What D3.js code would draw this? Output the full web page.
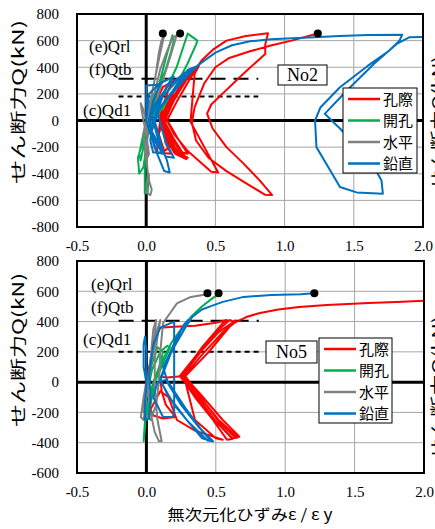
<!DOCTYPE html>
<html><head><meta charset="utf-8">
<script src="https://cdn.jsdelivr.net/npm/d3@7/dist/d3.min.js"></script>
<style>body{margin:0;background:#fff}svg{display:block}</style>
</head><body>
<svg id="c" width="435" height="529"></svg>
<script>
// ---- data ----
const seriesNames = ["孔際", "開孔", "水平", "鉛直"];
const seriesColors = ["#FF0000", "#00B050", "#808080", "#0070C0"];
const xTicks = [-0.5, 0, 0.5, 1.0, 1.5, 2.0];
const yTicksTop = [-800, -600, -400, -200, 0, 200, 400, 600, 800];
const yTicksBottom = [-600, -400, -200, 0, 200, 400, 600, 800];
const annotLabels = ["(e)Qrl", "(f)Qtb", "(c)Qd1"];

// No2 panel
const no2Red = [[0,0],[0.06,120],[0.12,250],[0.2,300],[0.16,230],[0.1,40],[0.12,-80],[0.17,-200],[0.13,-230],[0.09,-100],[0.1,0],
 [0.18,200],[0.28,330],[0.24,300],[0.11,40],[0.14,-100],[0.22,-230],[0.25,-270],[0.19,-220],[0.1,-40],
 [0.12,60],[0.24,250],[0.33,360],[0.3,320],[0.12,20],[0.2,-140],[0.28,-270],[0.3,-280],[0.22,-240],[0.11,-30],
 [0.08,-150],[0.08,-240],[0.18,-250],[0.14,-170],[0.12,-40],
 [0.14,80],[0.27,280],[0.37,400],[0.33,370],[0.13,40],[0.22,-120],[0.3,-250],[0.22,-230],[0.12,-10],
 [0.16,90],[0.25,260],[0.35,380],[0.31,340],[0.11,30],[0.18,-120],[0.26,-260],[0.2,-240],[0.11,-20],
 [0.15,70],[0.23,230],[0.3,340],[0.27,300],[0.1,10],[0.16,-130],[0.24,-250],[0.29,-290],[0.21,-250],[0.12,-30],
 [0.2,150],[0.3,330],[0.38,410],[0.35,350],[0.32,-10],[0.42,-200],[0.52,-390],[0.47,-385],[0.3,-230],[0.2,-100],[0.15,0],
 [0.22,140],[0.32,320],[0.4,450],[0.48,530],[0.58,600],[0.72,635],[0.88,655],[0.86,570],[0.86,500],[0.7,350],[0.55,200],[0.47,120],[0.44,52],
 [0.48,-60],[0.58,-200],[0.7,-320],[0.82,-450],[0.91,-560],[0.86,-558],[0.72,-470],[0.58,-380],[0.45,-280],[0.36,-150],[0.33,-15],
 [0.35,100],[0.42,280],[0.5,400],[0.6,470],[0.75,520],[0.9,563],[1.05,600],[1.24,653]];
const no2Green = [[0,0],[0.02,100],[0.05,200],[0.03,150],[0,0],[-0.02,-100],[-0.05,-250],[-0.04,-300],[-0.02,-200],[0,-50],
 [0.04,100],[0.09,250],[0.14,380],[0.18,520],[0.2,600],[0.19,640],[0.15,500],[0.1,300],[0.05,100],[0.02,0],
 [-0.02,-150],[-0.06,-280],[-0.05,-400],[-0.02,-350],[0,-200],[0.02,-50],[0.08,100],[0.15,250],[0.22,400],[0.27,560],
 [0.3,653],[0.37,600],[0.36,570],[0.3,430],[0.22,270],[0.12,95],[0.05,0],[0,-150],[-0.01,-300],[-0.01,-420],[-0.01,-550],[0.01,-540],[0.02,-400]];
const no2Grey = [[0,0],[-0.02,80],[-0.04,130],[-0.03,60],[-0.02,0],[0,-100],[0.02,-250],[0,-300],[0,-200],[0.01,0],
 [0.04,200],[0.07,350],[0.09,500],[0.11,600],[0.13,640],[0.1,500],[0.05,250],[0.02,50],[-0.02,-100],[0,-300],
 [0.02,-450],[0.04,-520],[0.03,-560],[0,-540],[0.01,-400],[0,-200],[0.02,0],[0.06,200],[0.1,380],[0.15,520],
 [0.19,620],[0.22,640],[0.18,500],[0.12,300],[0.06,100],[0.02,0]];
const no2Blue = [[0,0],[0,150],[0,262],[0.1,270],[0.05,150],[0.02,0],[0.06,-150],[0.12,-250],[0.08,-240],[0.03,-100],[0,0],
 [0.02,200],[0.1,280],[0.2,330],[0.15,260],[0.04,40],[0.08,-120],[0.15,-300],[0.17,-390],[0.13,-380],[0.06,-200],[0.02,-50],
 [0.05,100],[0.15,250],[0.28,360],[0.37,410],[0.32,360],[0.1,100],[0.06,0],[0.1,-140],[0.12,-240],[0.05,-240],[0.03,-150],[0.05,0],
 [0.12,180],[0.25,330],[0.35,400],[0.3,380],[0.08,60],[0.14,-160],[0.2,-280],[0.14,-270],[0.04,-80],
 [0.1,100],[0.25,300],[0.38,420],[0.5,510],[0.62,565],[0.75,595],[0.9,610],[1.1,620],[1.4,635],[1.6,642],[1.85,645],
 [1.83,600],[1.75,520],[1.6,410],[1.4,250],[1.26,100],[1.22,0],[1.23,-200],[1.33,-375],[1.4,-500],[1.52,-540],[1.71,-550],
 [1.7,-450],[1.62,-300],[1.5,-170],[1.4,-60],[1.29,50],[1.45,225],[1.65,430],[1.81,575],[1.9,625],[2.05,628]];

// No5 panel
const no5Red = [[0,0],[0.03,150],[0.06,300],[0.1,360],[0.2,365],[0.35,372],[0.5,392],[0.58,410],[0.55,390],[0.4,230],[0.25,35],
 [0.35,-100],[0.48,-250],[0.58,-380],[0.62,-375],[0.5,-260],[0.35,-80],[0.24,40],[0.38,200],[0.5,330],[0.6,410],[0.63,400],[0.45,200],[0.27,30],
 [0.38,-110],[0.5,-260],[0.62,-370],[0.66,-365],[0.52,-250],[0.36,-70],[0.26,45],[0.4,210],[0.52,330],[0.64,405],[0.62,395],[0.44,190],[0.28,40],
 [0.4,-110],[0.52,-260],[0.64,-365],[0.67,-360],[0.55,-250],[0.38,-70],[0.27,40],
 [0.15,30],[0.1,35],[0.11,-60],[0.14,-150],[0.21,-230],[0.12,-240],[0.05,-220],[0.03,-180],[0.1,-60],[0.16,-100],[0.22,-250],[0.35,-320],[0.55,-380],[0.5,-370],[0.35,-250],[0.27,40],
 [0.4,180],[0.55,330],[0.64,395],[0.72,430],[0.81,455],[0.95,480],[1.1,497],[1.3,510],[1.6,522],[1.8,530],[2.05,540]];
const no5Green = [[0,0],[0.02,60],[0.05,150],[0.08,230],[0.12,200],[0.1,120],[0.05,0],[0.02,-100],[-0.01,-250],[-0.02,-390],
 [-0.01,-300],[0,-100],[0.04,80],[0.1,200],[0.15,240],[0.17,230],[0.13,150],[0.09,60],[0.05,-20],[0.02,-150],[0,-250],
 [0.02,-200],[0.06,0],[0.12,150],[0.18,260],[0.25,350],[0.32,430],[0.4,500],[0.47,550],[0.51,575]];
const no5Grey = [[0,0],[-0.02,-100],[-0.04,-230],[-0.02,-250],[0,-100],[0.03,100],[0.06,300],[0.07,410],[0.05,350],[0.03,150],
 [0.01,-50],[0.03,-200],[0.06,-330],[0.09,-390],[0.11,-390],[0.08,-250],[0.06,-50],[0.06,150],[0.08,300],[0.1,410],
 [0.08,350],[0.04,150],[0,-50],[-0.02,-200],[0.03,-250],[0.07,-150],[0.09,0],[0.1,200],[0.12,390],[0.17,455],[0.22,520],[0.32,563],[0.44,580]];
const no5Blue = [[0,0],[-0.02,100],[-0.02,250],[-0.01,300],[0,200],[0,0],[-0.01,-150],[-0.01,-250],[0.02,-240],[0.03,-100],
 [0.02,50],[0.05,250],[0.1,360],[0.2,400],[0.2,200],[0.2,0],[0.2,-200],[0.19,-230],[0.12,-230],[0.05,-100],[0.08,0],
 [0.14,15],[0.25,-150],[0.38,-300],[0.48,-390],[0.44,-385],[0.3,-260],[0.15,-80],[0.1,20],[0.15,150],[0.22,300],[0.3,410],
 [0.27,380],[0.12,100],[0.15,10],[0.28,-170],[0.4,-320],[0.46,-385],[0.4,-370],[0.2,-150],[0.1,10],[0.18,200],[0.28,360],
 [0.33,430],[0.4,480],[0.46,500],[0.55,530],[0.7,563],[0.9,575],[1.11,580],[1.21,587]];

const no2Dots = [[0.12,653],[0.245,653],[1.24,653]];
const no5Dots = [[0.44,587],[0.52,587],[1.21,587]];
const no2Levels = [313, 180];   // (f)Qtb long dash, (c)Qd1 short dash
const no5Levels = [405, 201];

// ---- drawing ----
const svg = d3.select("#c");
const serif = "'Liberation Serif', 'Times New Roman', serif";
const jp = "'Noto Sans CJK JP', sans-serif";

function panel(cfg) {
  const x = d3.scaleLinear([-0.5, 2.0], [cfg.left, cfg.right]);
  const y = d3.scaleLinear([cfg.yTicks[0], 800], [cfg.bottom, cfg.top]);
  const g = svg.append("g");
  const cid = "clip" + cfg.id;
  svg.append("defs").append("clipPath").attr("id", cid).append("rect")
    .attr("x", cfg.left).attr("y", cfg.top).attr("width", cfg.right - cfg.left).attr("height", cfg.bottom - cfg.top);

  g.selectAll(".gx").data(xTicks).join("line").attr("x1", d => x(d)).attr("x2", d => x(d))
    .attr("y1", cfg.top).attr("y2", cfg.bottom).attr("stroke", "#a6a6a6").attr("stroke-width", 1);
  g.selectAll(".gy").data(cfg.yTicks).join("line").attr("y1", d => y(d)).attr("y2", d => y(d))
    .attr("x1", cfg.left).attr("x2", cfg.right).attr("stroke", "#a6a6a6").attr("stroke-width", 1);

  g.append("line").attr("x1", cfg.left).attr("x2", cfg.right).attr("y1", y(0)).attr("y2", y(0)).attr("stroke", "#000").attr("stroke-width", 3);
  g.append("line").attr("x1", x(0)).attr("x2", x(0)).attr("y1", cfg.top).attr("y2", cfg.bottom).attr("stroke", "#000").attr("stroke-width", 3);

  const xa = -0.2, xb = 0.81;
  g.append("line").attr("x1", x(xa)).attr("x2", x(xb)).attr("y1", y(cfg.levels[0])).attr("y2", y(cfg.levels[0]))
    .attr("stroke", "#000").attr("stroke-width", 2).attr("stroke-dasharray", "15,8");
  g.append("line").attr("x1", x(xa)).attr("x2", x(xb)).attr("y1", y(cfg.levels[1])).attr("y2", y(cfg.levels[1]))
    .attr("stroke", "#000").attr("stroke-width", 2).attr("stroke-dasharray", "5,4");

  const line = d3.line().x(d => x(d[0])).y(d => y(d[1]));
  const cg = g.append("g").attr("clip-path", `url(#${cid})`);
  cfg.series.forEach((s, i) => {
    cg.append("path").attr("d", line(s)).attr("fill", "none").attr("stroke", seriesColors[i])
      .attr("stroke-width", 2).attr("stroke-linejoin", "round");
  });
  cg.selectAll(".dot").data(cfg.dots).join("circle").attr("cx", d => x(d[0])).attr("cy", d => y(d[1]))
    .attr("r", 4).attr("fill", "#000");

  g.append("rect").attr("x", cfg.left).attr("y", cfg.top).attr("width", cfg.right - cfg.left).attr("height", cfg.bottom - cfg.top)
    .attr("fill", "none").attr("stroke", "#000").attr("stroke-width", 2);

  const ax = g.append("g").attr("transform", `translate(0,${cfg.bottom})`)
    .call(d3.axisBottom(x).tickValues(xTicks).tickSize(0).tickPadding(13).tickFormat(d => d.toFixed(1)));
  const ay = g.append("g").attr("transform", `translate(${cfg.left},0)`)
    .call(d3.axisLeft(y).tickValues(cfg.yTicks).tickSize(0).tickPadding(18).tickFormat(d => String(d)));
  [ax, ay].forEach(a => { a.select(".domain").remove(); a.selectAll("text").attr("font-family", serif).attr("font-size", 15).attr("fill", "#000"); });

  cfg.annot.forEach((a, i) => {
    g.append("text").attr("x", a[0]).attr("y", a[1]).text(annotLabels[i])
      .attr("font-family", serif).attr("font-size", 17).attr("fill", "#000");
  });

  const nb = cfg.noBox;
  g.append("rect").attr("x", nb[0]).attr("y", nb[1]).attr("width", nb[2]).attr("height", nb[3]).attr("fill", "#fff").attr("stroke", "#000").attr("stroke-width", 1);
  g.append("text").attr("x", nb[0] + nb[2] / 2).attr("y", nb[1] + nb[3] / 2 + 6).attr("text-anchor", "middle")
    .attr("font-family", serif).attr("font-size", 18).text(cfg.noLabel);

  const lg = cfg.legend;
  g.append("rect").attr("x", lg[0]).attr("y", lg[1]).attr("width", lg[2]).attr("height", lg[3]).attr("fill", "#fff").attr("stroke", "#000").attr("stroke-width", 1);
  seriesNames.forEach((n, i) => {
    const yy = lg[1] + 11 + i * 21.5;
    g.append("line").attr("x1", lg[0] + 5).attr("x2", lg[0] + 37).attr("y1", yy).attr("y2", yy)
      .attr("stroke", seriesColors[i]).attr("stroke-width", 2.5);
    g.append("text").attr("x", lg[0] + 40).attr("y", yy + 5.5).text(n).attr("font-family", jp).attr("font-size", 15).attr("fill", "#000");
  });

  g.append("text").attr("transform", `translate(24,${cfg.ylabCy}) rotate(-90)`).attr("text-anchor", "middle")
    .attr("font-family", jp).attr("font-size", 16).attr("textLength", cfg.ylabLen).attr("lengthAdjust", "spacingAndGlyphs")
    .text("せん断力Q(kN)");
  g.append("text").attr("transform", `translate(444,${cfg.ylabCy2}) rotate(-90)`).attr("text-anchor", "middle")
    .attr("font-family", jp).attr("font-size", 16).attr("textLength", cfg.ylabLen2).attr("lengthAdjust", "spacingAndGlyphs")
    .text("せん断力Q(kN)");
}

panel({ id: 1, left: 77, right: 423, top: 14, bottom: 227, yTicks: yTicksTop,
  series: [no2Red, no2Green, no2Grey, no2Blue], dots: no2Dots, levels: no2Levels,
  annot: [[89, 52], [89, 75], [83, 116]], noBox: [278, 65, 49, 20], noLabel: "No2",
  legend: [343, 88, 74, 85], ylabCy: 102, ylabLen: 164, ylabCy2: 123, ylabLen2: 134 });
panel({ id: 2, left: 77, right: 424, top: 261, bottom: 473, yTicks: yTicksBottom,
  series: [no5Red, no5Green, no5Grey, no5Blue], dots: no5Dots, levels: no5Levels,
  annot: [[91, 290], [91, 313], [83, 345]], noBox: [266, 341, 51, 22], noLabel: "No5",
  legend: [319, 338, 73, 85], ylabCy: 350, ylabLen: 154, ylabCy2: 388, ylabLen2: 144 });

svg.append("text").attr("x", 250).attr("y", 520).attr("text-anchor", "middle").attr("font-family", jp).attr("font-size", 15)
  .attr("textLength", 165).attr("lengthAdjust", "spacingAndGlyphs").text("無次元化ひずみε / ε y");
</script>
</body></html>
